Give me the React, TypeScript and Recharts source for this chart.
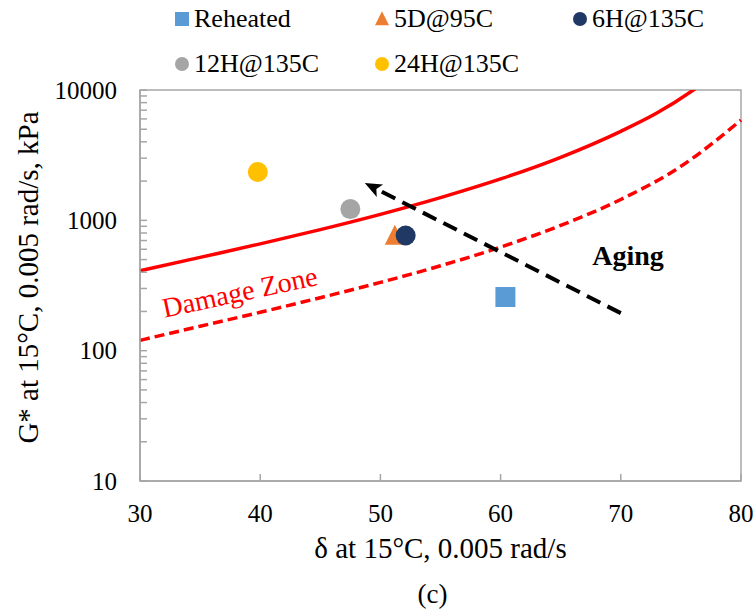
import {
  ComposedChart,
  Legend,
  Line,
  ReferenceArea,
  ReferenceDot,
  ReferenceLine,
  Scatter,
  XAxis,
  YAxis,
} from 'recharts'

const FONT = '"Liberation Serif", "Times New Roman", serif'
const AXIS = '#a6a6a6'
const RED = '#ff0000'

// phase angle (deg) vs G* (kPa)
const reheated = [{ d: 60.4, g: 258 }]
const d5at95 = [{ d: 51.2, g: 760 }]
const h6at135 = [{ d: 52.1, g: 765 }]
const h12at135 = [{ d: 47.5, g: 1220 }]
const h24at135 = [{ d: 39.8, g: 2350 }]

// damage zone boundaries
const upperDelta = [30, 35, 40, 45, 50, 55, 60, 65, 70, 73, 76, 77]
const upperG = [410, 520, 660, 849, 1112, 1494, 2078, 3045, 4820, 6650, 9950, 11600]
const lowerDelta = [30, 35, 40, 45, 50, 55, 60, 65, 70, 75, 80]
const lowerG = [120, 154, 197, 255, 334, 448, 623, 914, 1446, 2596, 5880]

const xTicks = [30, 40, 50, 60, 70, 80]
const yTicks = [
  10, 20, 30, 40, 50, 60, 70, 80, 90,
  100, 200, 300, 400, 500, 600, 700, 800, 900,
  1000, 2000, 3000, 4000, 5000, 6000, 7000, 8000, 9000,
  10000,
]
const yLabels = [10, 100, 1000, 10000]

const agingFrom = { d: 70, g: 194 }
const agingTo = { d: 48.7, g: 1930 }

const upper = upperDelta.map((d, i) => ({ d, g: upperG[i] }))
const lower = lowerDelta.map((d, i) => ({ d, g: lowerG[i] }))

type Kind = 'square' | 'triangle' | 'circle'

const legendItems: { name: string; color: string; kind: Kind }[] = [
  { name: 'Reheated', color: '#5b9bd5', kind: 'square' },
  { name: '5D@95C', color: '#ed7d31', kind: 'triangle' },
  { name: '6H@135C', color: '#203864', kind: 'circle' },
  { name: '12H@135C', color: '#a5a5a5', kind: 'circle' },
  { name: '24H@135C', color: '#ffc000', kind: 'circle' },
]
const legendCols = [182, 382, 580]
const legendRows = [19, 64]

function Marker({ cx, cy, kind, color, s }: { cx: number; cy: number; kind: Kind; color: string; s: number }) {
  const h = s / 2
  if (kind === 'square') return <rect x={cx - h} y={cy - h} width={s} height={s} fill={color} />
  if (kind === 'triangle')
    return <polygon points={`${cx},${cy - h * 1.1} ${cx + h},${cy + h * 0.9} ${cx - h},${cy + h * 0.9}`} fill={color} />
  return <circle cx={cx} cy={cy} r={h} fill={color} />
}

function LegendBox() {
  return (
    <div style={{ position: 'relative', width: 756, height: 90, fontFamily: FONT, fontSize: 26, color: '#000' }}>
      {legendItems.map((it, i) => (
        <div
          key={it.name}
          style={{
            position: 'absolute',
            left: legendCols[i % 3] - 8,
            top: legendRows[Math.floor(i / 3)] - 14,
            height: 28,
            display: 'flex',
            alignItems: 'center',
            whiteSpace: 'nowrap',
          }}
        >
          <svg width={16} height={16}>
            <Marker cx={8} cy={8} kind={it.kind} color={it.color} s={14} />
          </svg>
          <span style={{ marginLeft: 4, lineHeight: '28px' }}>{it.name}</span>
        </div>
      ))}
    </div>
  )
}

function XTick({ x, y, payload }: any) {
  return (
    <g>
      <line x1={x} x2={x} y1={y} y2={y - 7} stroke={AXIS} strokeWidth={1.5} />
      <text x={x} y={y + 32} textAnchor="middle" dominantBaseline="central" fontFamily={FONT} fontSize={25} fill="#000">
        {payload.value}
      </text>
    </g>
  )
}

function YTick({ x, y, payload }: any) {
  return (
    <g>
      <line x1={x} x2={x + 7} y1={y} y2={y} stroke={AXIS} strokeWidth={1.5} />
      {yLabels.includes(payload.value) && (
        <text x={x - 23} y={y} textAnchor="end" dominantBaseline="central" fontFamily={FONT} fontSize={25} fill="#000">
          {payload.value}
        </text>
      )}
    </g>
  )
}

function XTitle({ viewBox }: any) {
  const cx = viewBox.x + viewBox.width / 2
  return (
    <g fontFamily={FONT} fill="#000">
      <text x={cx} y={viewBox.y + 67} textAnchor="middle" dominantBaseline="central" fontSize={29}>
        δ at 15°C, 0.005  rad/s
      </text>
      <text x={cx - 8} y={viewBox.y + 113} textAnchor="middle" dominantBaseline="central" fontSize={27}>
        (c)
      </text>
    </g>
  )
}

function YTitle({ viewBox }: any) {
  const cx = viewBox.x + 28
  const cy = viewBox.y + viewBox.height / 2 - 8
  return (
    <text
      x={cx}
      y={cy}
      transform={`rotate(-90 ${cx} ${cy})`}
      textAnchor="middle"
      dominantBaseline="central"
      fontFamily={FONT}
      fontSize={29}
      fill="#000"
    >
      G* at 15°C, 0.005 rad/s, kPa
    </text>
  )
}

function AgingArrow({ x1, y1, x2, y2 }: any) {
  const a = Math.atan2(y2 - y1, x2 - x1)
  const c = Math.cos(a)
  const s = Math.sin(a)
  const len = 17
  const w = 7
  const bx = x2 - len * c
  const by = y2 - len * s
  const nx = x2 - (len - 4) * c
  const ny = y2 - (len - 4) * s
  return (
    <g>
      <line x1={x1} y1={y1} x2={bx} y2={by} stroke="#000" strokeWidth={4} strokeDasharray="15 8" />
      <polygon
        points={`${x2},${y2} ${bx - w * s},${by + w * c} ${nx},${ny} ${bx + w * s},${by - w * c}`}
        fill="#000"
      />
    </g>
  )
}

export default function App() {
  return (
    <div style={{ position: 'absolute', left: 0, top: 0, width: 756, height: 613, background: '#fff' }}>
      <ComposedChart width={756} height={613} margin={{ top: 90, right: 15, bottom: 0, left: 0 }}>
        <XAxis
          type="number"
          dataKey="d"
          domain={[30, 80]}
          ticks={xTicks}
          height={132}
          tickSize={0}
          tickMargin={0}
          tickLine={false}
          tick={XTick}
          axisLine={{ stroke: AXIS, strokeWidth: 1.5 }}
          label={XTitle}
        />
        <YAxis
          type="number"
          scale="log"
          domain={[10, 10000]}
          allowDataOverflow
          ticks={yTicks}
          width={140}
          tickSize={0}
          tickMargin={0}
          tickLine={false}
          tick={YTick}
          interval={0}
          axisLine={{ stroke: AXIS, strokeWidth: 1.5 }}
          label={YTitle}
        />
        <ReferenceArea x1={30} x2={80} y1={10} y2={10000} fill="none" stroke={AXIS} strokeWidth={1.5} />
        <Legend
          layout="horizontal"
          verticalAlign="middle"
          align="center"
          wrapperStyle={{ top: 0, left: 0, width: 756, height: 90 }}
          content={LegendBox}
        />
        <Line
          data={upper}
          dataKey="g"
          type="monotone"
          stroke={RED}
          strokeWidth={3.5}
          dot={false}
          activeDot={false}
          isAnimationActive={false}
        />
        <Line
          data={lower}
          dataKey="g"
          type="monotone"
          stroke={RED}
          strokeWidth={3.5}
          strokeDasharray="10 5"
          dot={false}
          activeDot={false}
          isAnimationActive={false}
        />
        <ReferenceDot
          x={38.3}
          y={282}
          r={0}
          shape={(p: any) => (
            <text
              x={p.cx}
              y={p.cy}
              transform={`rotate(-12 ${p.cx} ${p.cy})`}
              textAnchor="middle"
              dominantBaseline="central"
              fontFamily={FONT}
              fontSize={28}
              fill={RED}
            >
              Damage Zone
            </text>
          )}
        />
        <ReferenceDot
          x={70.6}
          y={535}
          r={0}
          shape={(p: any) => (
            <text
              x={p.cx}
              y={p.cy}
              textAnchor="middle"
              dominantBaseline="central"
              fontFamily={FONT}
              fontSize={28}
              fontWeight="bold"
              fill="#000"
            >
              Aging
            </text>
          )}
        />
        <Scatter data={reheated} dataKey="g" isAnimationActive={false}
          shape={(p: any) => <Marker cx={p.cx} cy={p.cy} kind="square" color="#5b9bd5" s={20} />} />
        <Scatter data={d5at95} dataKey="g" isAnimationActive={false}
          shape={(p: any) => <Marker cx={p.cx} cy={p.cy} kind="triangle" color="#ed7d31" s={20} />} />
        <Scatter data={h6at135} dataKey="g" isAnimationActive={false}
          shape={(p: any) => <Marker cx={p.cx} cy={p.cy} kind="circle" color="#203864" s={20} />} />
        <Scatter data={h12at135} dataKey="g" isAnimationActive={false}
          shape={(p: any) => <Marker cx={p.cx} cy={p.cy} kind="circle" color="#a5a5a5" s={20} />} />
        <Scatter data={h24at135} dataKey="g" isAnimationActive={false}
          shape={(p: any) => <Marker cx={p.cx} cy={p.cy} kind="circle" color="#ffc000" s={20} />} />
        <ReferenceLine
          segment={[
            { x: agingFrom.d, y: agingFrom.g },
            { x: agingTo.d, y: agingTo.g },
          ]}
          shape={AgingArrow}
        />
      </ComposedChart>
    </div>
  )
}
